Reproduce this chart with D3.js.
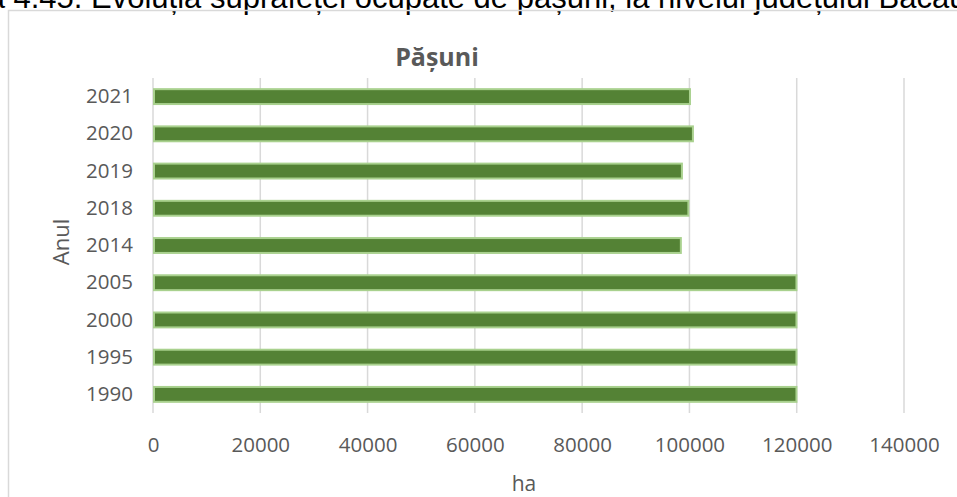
<!DOCTYPE html>
<html>
<head>
<meta charset="utf-8">
<script src="https://cdn.jsdelivr.net/npm/d3@7"></script>
<style>
  body { margin: 0; background: #fff; }
  svg { display: block; }
</style>
</head>
<body>
<div id="chart"></div>
<script>
// Data
const years = ["1990", "1995", "2000", "2005", "2014", "2018", "2019", "2020", "2021"];
const pasuni = [119950, 119950, 119950, 119950, 98400, 99800, 98600, 100650, 100100];
const xTicks = [0, 20000, 40000, 60000, 80000, 100000, 120000, 140000];

const W = 957, H = 497;
const margin = { top: 78, right: 53, bottom: 84, left: 153 };
const width = W - margin.left - margin.right;
const height = H - margin.top - margin.bottom;

const svg = d3.select("#chart")
    .append("svg")
    .attr("width", W)
    .attr("height", H);

// Caption, cut off at the top of the picture as in the source
svg.append("text")
    .attr("x", -83)
    .attr("y", 8)
    .attr("font-family", "Liberation Sans, Arial, sans-serif")
    .attr("font-size", 31)
    .attr("fill", "#000")
    .text("Figura 4.45. Evoluția suprafeței ocupate de pășuni, la nivelul județului Bacău");

// Chart frame
svg.append("rect")
    .attr("x", 8.5)
    .attr("y", 10.5)
    .attr("width", W + 20)
    .attr("height", H + 20)
    .attr("fill", "none")
    .attr("stroke", "#d9d9d9")
    .attr("stroke-width", 1.5);

const g = svg.append("g")
    .attr("transform", `translate(${margin.left},${margin.top})`);

// Scales
const x = d3.scaleLinear()
    .domain([0, 140000])
    .range([0, width]);

const y = d3.scaleBand()
    .domain(years.slice().reverse())
    .range([0, height])
    .paddingInner(0.6)
    .paddingOuter(0.3);

// Gridlines
g.selectAll(".grid")
    .data(xTicks)
    .enter()
    .append("line")
    .attr("x1", d => x(d))
    .attr("x2", d => x(d))
    .attr("y1", 0)
    .attr("y2", height)
    .attr("stroke", "#d9d9d9")
    .attr("stroke-width", 1.5);

// Axes
const xAxis = g.append("g")
    .attr("transform", `translate(0,${height})`)
    .call(d3.axisBottom(x).tickValues(xTicks).tickFormat(d3.format("d")).tickSize(0).tickPadding(24));
xAxis.select(".domain").remove();

const yAxis = g.append("g")
    .call(d3.axisLeft(y).tickSize(0).tickPadding(20));
yAxis.select(".domain").remove();

svg.selectAll(".tick text")
    .attr("font-family", "Open Sans, sans-serif")
    .attr("font-size", 20.5)
    .attr("fill", "#595959");

// Bars
g.selectAll(".bar")
    .data(years.map((d, i) => ({ year: d, value: pasuni[i] })))
    .enter()
    .append("rect")
    .attr("class", "bar")
    .attr("x", x(0) + 1)
    .attr("y", d => y(d.year))
    .attr("width", d => x(d.value) - x(0) - 1)
    .attr("height", y.bandwidth())
    .attr("fill", "#548235")
    .attr("stroke", "#a9d18e")
    .attr("stroke-width", 2);

// Title
svg.append("text")
    .attr("x", 437)
    .attr("y", 66)
    .attr("text-anchor", "middle")
    .attr("font-family", "Open Sans, sans-serif")
    .attr("font-weight", "bold")
    .attr("font-size", 25)
    .attr("fill", "#595959")
    .text("Pășuni");

// Axis titles
svg.append("text")
    .attr("x", 524)
    .attr("y", 491)
    .attr("text-anchor", "middle")
    .attr("font-family", "Open Sans, sans-serif")
    .attr("font-size", 21)
    .attr("fill", "#595959")
    .text("ha");

svg.append("text")
    .attr("transform", "translate(69,242) rotate(-90)")
    .attr("text-anchor", "middle")
    .attr("font-family", "Open Sans, sans-serif")
    .attr("font-size", 22)
    .attr("fill", "#595959")
    .text("Anul");
</script>
</body>
</html>
